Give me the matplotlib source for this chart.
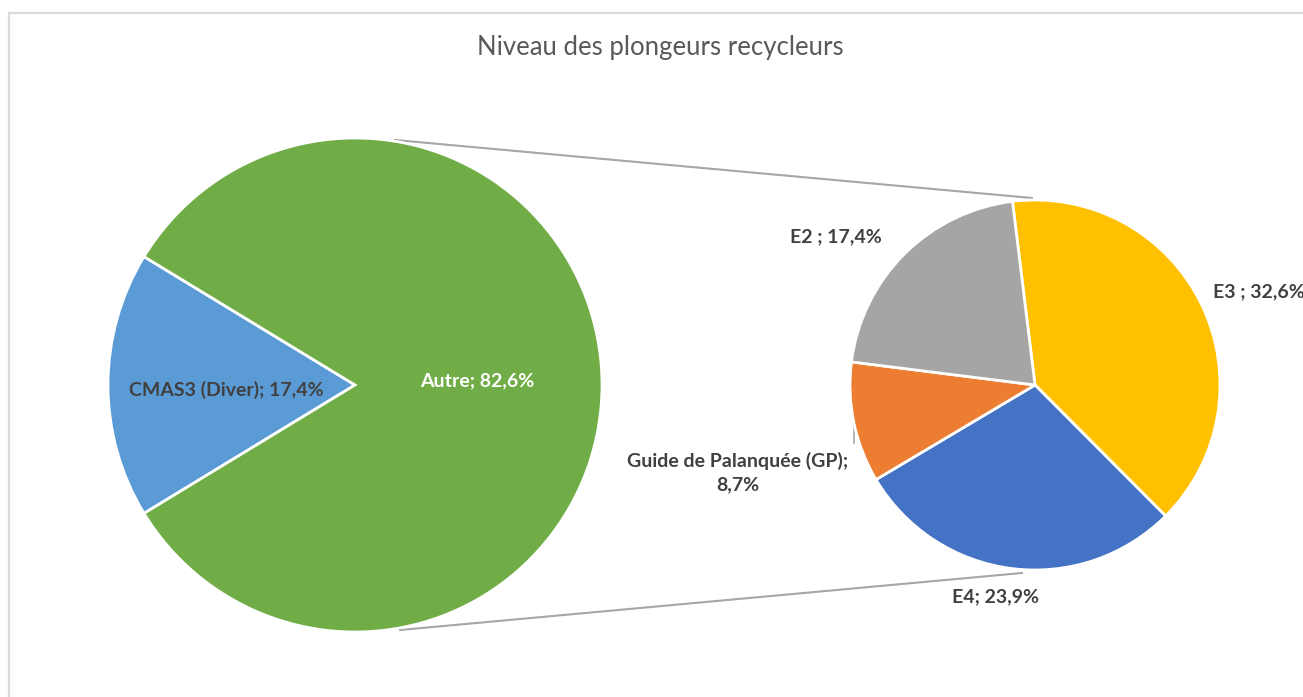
import matplotlib.pyplot as plt

plt.rcParams['font.family'] = ['Lato', 'DejaVu Sans']

# data
main_labels = ['CMAS3 (Diver)', 'Autre']
main_values = [17.4, 82.6]
main_colors = ['#5B9BD5', '#70AD47']

sub_labels = ['E3', 'E4', 'Guide de Palanquée (GP)', 'E2']
sub_values = [32.6, 23.9, 8.7, 17.4]
sub_colors = ['#FFC000', '#4472C4', '#ED7D31', '#A5A5A5']

fig = plt.figure(figsize=(13.03, 6.97), dpi=100)
ax = fig.add_axes([0, 0, 1, 1])

# chart frame (only top and left visible)
ax.plot([8.5, 8.5], [0, 684], color='#d9d9d9', lw=1.6, clip_on=False)
ax.plot([8.5, 1303], [684, 684], color='#d9d9d9', lw=1.6, clip_on=False)

ax.text(660, 649, 'Niveau des plongeurs recycleurs', ha='center', va='center',
        fontsize=18.5, fontweight='normal', color='#595959')

# connector lines
ax.plot([395, 1032], [557, 499], color='#a6a6a6', lw=1.5, zorder=1)
ax.plot([400, 1022], [67, 124], color='#a6a6a6', lw=1.5, zorder=1)
ax.plot([854, 854], [254, 272], color='#a6a6a6', lw=1.2, zorder=1)

# big pie
start = 180 - main_values[0] / 100 * 360 / 2
ax.pie(main_values, colors=main_colors, startangle=start, center=(355, 312),
       radius=247, wedgeprops=dict(edgecolor='white', linewidth=2), frame=True)

# small pie
ax.pie(sub_values, colors=sub_colors, startangle=97, counterclock=False,
       center=(1035, 312), radius=185,
       wedgeprops=dict(edgecolor='white', linewidth=2), frame=True)

ax.set_xlim(0, 1303)
ax.set_ylim(0, 697)
ax.set_aspect('equal')
ax.axis('off')

def pct(v):
    return f'{v:.1f}%'.replace('.', ',')

fs = 14
lab = dict(fontsize=fs, fontweight='bold', color='#404040', va='center')
ax.text(226, 307, f'{main_labels[0]}; {pct(main_values[0])}', ha='center', **lab)
ax.text(477, 316, f'{main_labels[1]}; {pct(main_values[1])}', ha='center',
        fontsize=fs, fontweight='bold', color='white', va='center')
ax.text(836, 460, f'{sub_labels[3]} ; {pct(sub_values[3])}', ha='center', **lab)
ax.text(1213, 405, f'{sub_labels[0]} ; {pct(sub_values[0])}', ha='left', **lab)
ax.text(738, 224, f'{sub_labels[2]};\n{pct(sub_values[2])}', ha='center',
        linespacing=1.45, **lab)
ax.text(995, 100, f'{sub_labels[1]}; {pct(sub_values[1])}', ha='center', **lab)

fig.savefig('out.png', dpi=100)
